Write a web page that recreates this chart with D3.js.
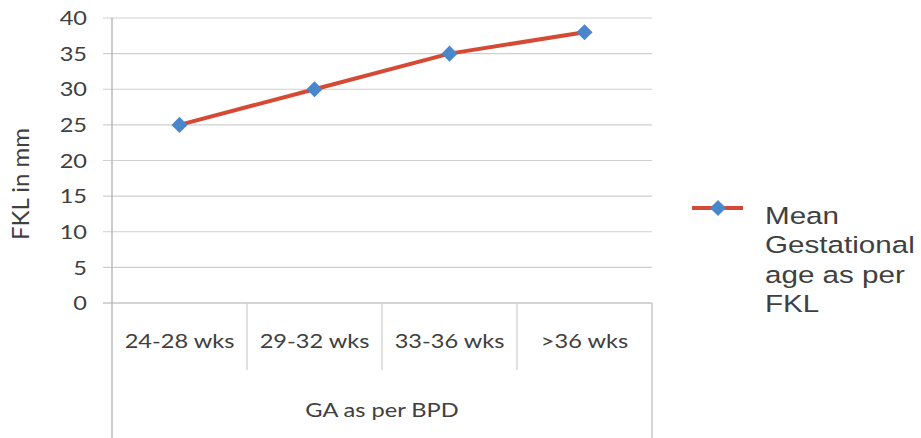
<!DOCTYPE html>
<html><head><meta charset="utf-8">
<script src="https://cdn.jsdelivr.net/npm/d3@7"></script>
<style>
html,body{margin:0;padding:0;background:#fff;}
svg{display:block;}
</style></head>
<body>
<svg id="chart" width="921" height="438"></svg>
<script>
const categories = ["24-28 wks", "29-32 wks", "33-36 wks", ">36 wks"];
const values = [25, 30, 35, 38];
const yTicks = [0, 5, 10, 15, 20, 25, 30, 35, 40];
const seriesName = ["Mean", "Gestational", "age as per", "FKL"];
const yTitle = "FKL in mm";
const xTitle = "GA as per BPD";

(function () {
const svg = d3.select("#chart");
const pL = 112, pR = 652, pT = 18, pB = 303;
const x = d3.scaleBand().domain(categories).range([pL, pR]);
const y = d3.scaleLinear().domain([0, 40]).range([pB, pT]);

const axisFont = "Lato, 'Open Sans', sans-serif";
const textColor = "#404040";
const sx = 1.18; // horizontal stretch of the source image text

// gridlines
svg.append("g").selectAll("line").data(yTicks).join("line")
  .attr("x1", pL - 9).attr("x2", pR)
  .attr("y1", d => y(d)).attr("y2", d => y(d))
  .attr("stroke", d => d === 0 ? "#aaa" : "#cfcfcf").attr("stroke-width", 1.2);

// y axis line
svg.append("line").attr("x1", pL).attr("x2", pL).attr("y1", pT).attr("y2", 438)
  .attr("stroke", "#aaa").attr("stroke-width", 1.2);
// right border of table
svg.append("line").attr("x1", pR).attr("x2", pR).attr("y1", pB).attr("y2", 438)
  .attr("stroke", "#bbb").attr("stroke-width", 1.2);
// category separators
svg.append("g").selectAll("line").data(categories.slice(1)).join("line")
  .attr("x1", d => x(d)).attr("x2", d => x(d))
  .attr("y1", pB).attr("y2", 370)
  .attr("stroke", "#ccc").attr("stroke-width", 1.2);

// y tick labels
svg.append("g").selectAll("text").data(yTicks).join("text")
  .attr("transform", d => `translate(87,${y(d)}) scale(${sx},1)`)
  .attr("dy", "0.36em")
  .attr("text-anchor", "end").attr("font-family", axisFont).attr("font-size", 20)
  .attr("fill", textColor).text(d => d);

// y title
svg.append("text").attr("transform", `translate(20,184) rotate(-90)`)
  .attr("dy", "0.36em")
  .attr("text-anchor", "middle").attr("font-family", axisFont).attr("font-size", 24)
  .attr("fill", textColor).text(yTitle);

// category labels
svg.append("g").selectAll("text").data(categories).join("text")
  .attr("transform", d => `translate(${x(d) + x.bandwidth() / 2},341) scale(${sx},1)`)
  .attr("dy", "0.36em")
  .attr("text-anchor", "middle").attr("font-family", axisFont).attr("font-size", 20)
  .attr("fill", textColor).text(d => d);

// x title
svg.append("text").attr("transform", `translate(${(pL + pR) / 2},410) scale(${sx},1)`)
  .attr("dy", "0.36em")
  .attr("text-anchor", "middle").attr("font-family", axisFont).attr("font-size", 20)
  .attr("fill", textColor).text(xTitle);

// line
const lineColor = "#d44a35", markerColor = "#4a86cc";
const line = d3.line().x((d, i) => x(categories[i]) + x.bandwidth() / 2).y(d => y(d));
svg.append("path").datum(values).attr("d", line).attr("fill", "none")
  .attr("stroke", lineColor).attr("stroke-width", 4).attr("stroke-linejoin", "round");

const diamond = d3.symbol().type(d3.symbolDiamond2).size(165);
svg.append("g").selectAll("path").data(values).join("path")
  .attr("transform", (d, i) => `translate(${x(categories[i]) + x.bandwidth() / 2},${y(d)})`)
  .attr("d", diamond).attr("fill", markerColor);

// legend
svg.append("line").attr("x1", 692).attr("x2", 743).attr("y1", 208).attr("y2", 208)
  .attr("stroke", lineColor).attr("stroke-width", 4);
svg.append("path").attr("transform", "translate(718,208)").attr("d", diamond).attr("fill", markerColor);
svg.append("g").selectAll("text").data(seriesName).join("text")
  .attr("transform", (d, i) => `translate(765,${224 + i * 29.3}) scale(1.26,1)`)
  .attr("font-family", "'Liberation Sans', Arial, sans-serif").attr("font-size", 23.5)
  .attr("fill", "#404040").text(d => d);
})();
</script>
</body></html>
